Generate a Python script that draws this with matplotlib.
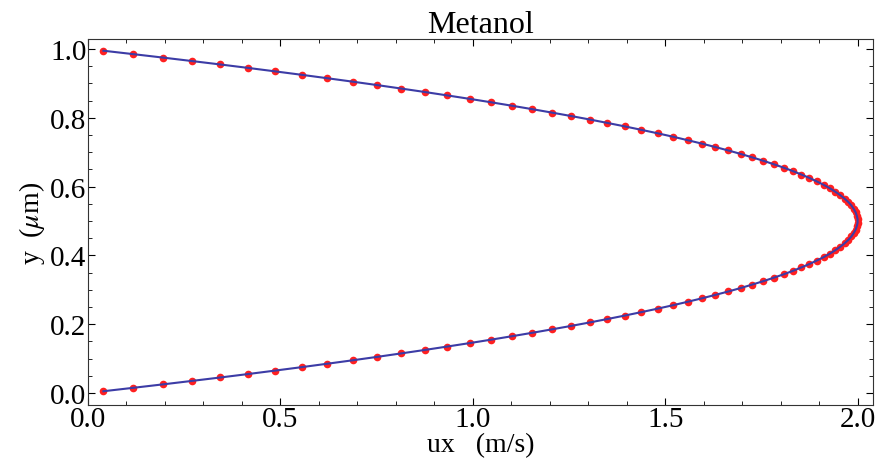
import matplotlib
matplotlib.use("Agg")
import matplotlib.pyplot as plt
from matplotlib.ticker import MultipleLocator, FormatStrFormatter

# velocity profile samples: y (um) and ux (m/s)
y_um = [0.005, 0.015, 0.025, 0.035, 0.045, 0.055, 0.065, 0.075, 0.085, 0.095,
        0.105, 0.115, 0.125, 0.135, 0.145, 0.155, 0.165, 0.175, 0.185, 0.195,
        0.205, 0.215, 0.225, 0.235, 0.245, 0.255, 0.265, 0.275, 0.285, 0.295,
        0.305, 0.315, 0.325, 0.335, 0.345, 0.355, 0.365, 0.375, 0.385, 0.395,
        0.405, 0.415, 0.425, 0.435, 0.445, 0.455, 0.465, 0.475, 0.485, 0.495,
        0.505, 0.515, 0.525, 0.535, 0.545, 0.555, 0.565, 0.575, 0.585, 0.595,
        0.605, 0.615, 0.625, 0.635, 0.645, 0.655, 0.665, 0.675, 0.685, 0.695,
        0.705, 0.715, 0.725, 0.735, 0.745, 0.755, 0.765, 0.775, 0.785, 0.795,
        0.805, 0.815, 0.825, 0.835, 0.845, 0.855, 0.865, 0.875, 0.885, 0.895,
        0.905, 0.915, 0.925, 0.935, 0.945, 0.955, 0.965, 0.975, 0.985, 0.995]
ux_ms = [0.040, 0.118, 0.195, 0.270, 0.344, 0.416, 0.486, 0.555, 0.622, 0.688,
         0.752, 0.814, 0.875, 0.934, 0.992, 1.048, 1.102, 1.155, 1.206, 1.256,
         1.304, 1.350, 1.395, 1.438, 1.480, 1.520, 1.558, 1.595, 1.630, 1.664,
         1.696, 1.726, 1.755, 1.782, 1.808, 1.832, 1.854, 1.875, 1.894, 1.912,
         1.928, 1.942, 1.955, 1.966, 1.976, 1.984, 1.990, 1.995, 1.998, 2.000,
         2.000, 1.998, 1.995, 1.990, 1.984, 1.976, 1.966, 1.955, 1.942, 1.928,
         1.912, 1.894, 1.875, 1.854, 1.832, 1.808, 1.782, 1.755, 1.726, 1.696,
         1.664, 1.630, 1.595, 1.558, 1.520, 1.480, 1.438, 1.395, 1.350, 1.304,
         1.256, 1.206, 1.155, 1.102, 1.048, 0.992, 0.934, 0.875, 0.814, 0.752,
         0.688, 0.622, 0.555, 0.486, 0.416, 0.344, 0.270, 0.195, 0.118, 0.040]

plt.rcParams["font.family"] = ["Liberation Serif", "DejaVu Serif"]
plt.rcParams["mathtext.fontset"] = "stix"

fig = plt.figure(figsize=(8.81, 4.60), dpi=100)
ax = fig.add_axes([0.0999, 0.1174, 0.891, 0.7956])

ax.plot(ux_ms, y_um, "o", color="#ff2020", ms=5.5, mec="none", zorder=2)
ax.plot(ux_ms, y_um, "-", color="#3c3ca6", lw=1.5, zorder=3)

ax.set_xlim(0, 2.04)
ax.set_ylim(-0.035, 1.029)
ax.xaxis.set_major_locator(MultipleLocator(0.5))
ax.xaxis.set_minor_locator(MultipleLocator(0.1))
ax.yaxis.set_major_locator(MultipleLocator(0.2))
ax.yaxis.set_minor_locator(MultipleLocator(0.05))
ax.xaxis.set_major_formatter(FormatStrFormatter("%.1f"))
ax.yaxis.set_major_formatter(FormatStrFormatter("%.1f"))
ax.tick_params(which="both", direction="in", top=True, right=True, labelsize=21, pad=1)
ax.tick_params(which="major", length=5, width=0.8)
ax.tick_params(which="minor", length=3, width=0.6)
for s in ax.spines.values():
    s.set_linewidth(0.8)
    s.set_color("#333333")

ax.set_title("Metanol", fontsize=23, pad=3)
ax.set_xlabel("ux   (m/s)", fontsize=20, labelpad=0)
ax.set_ylabel(r"y  ($\mu$m)", fontsize=20, labelpad=2)

fig.savefig("out.png", dpi=100)
